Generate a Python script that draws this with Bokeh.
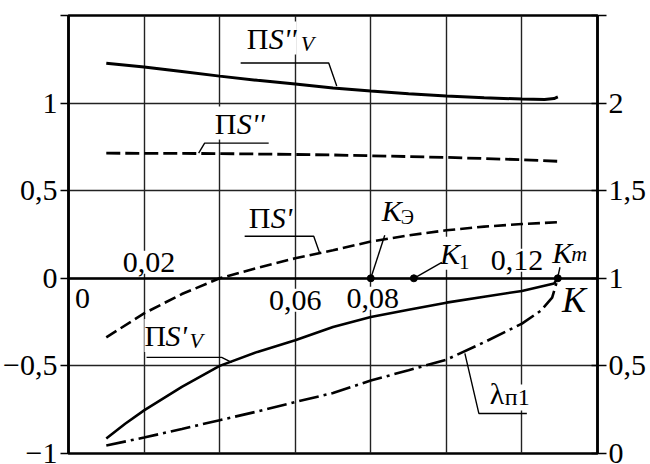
from bokeh.plotting import figure
from bokeh.models import Range1d, LinearAxis, FixedTicker
from bokeh.core.properties import value
from bokeh.embed import file_html
from bokeh.resources import INLINE

# ---------------- data ----------------
k_s2v = [0.01, 0.02, 0.03, 0.04, 0.05, 0.06, 0.07, 0.08, 0.09, 0.10, 0.11, 0.12, 0.126, 0.1285, 0.1295]
s2v   = [1.228, 1.206, 1.18, 1.154, 1.13, 1.109, 1.086, 1.069, 1.054, 1.04, 1.03, 1.023, 1.021, 1.026, 1.035]

k_s2 = [0.01, 0.04, 0.07, 0.10, 0.12, 0.1295]
s2   = [0.714, 0.712, 0.704, 0.69, 0.677, 0.668]

k_s1 = [0.01, 0.02, 0.03, 0.04, 0.05, 0.06, 0.07, 0.08, 0.09, 0.10, 0.11, 0.12, 0.1295]
s1   = [-0.337, -0.2, -0.09, 0.0, 0.06, 0.114, 0.16, 0.21, 0.245, 0.274, 0.295, 0.31, 0.32]

k_s1v = [0.01, 0.015, 0.02, 0.03, 0.04, 0.05, 0.06, 0.07, 0.08, 0.09, 0.10, 0.11, 0.12, 0.1285, 0.1295]
s1v   = [-0.914, -0.83, -0.754, -0.62, -0.5, -0.42, -0.354, -0.278, -0.221, -0.18, -0.139, -0.105, -0.072, -0.03, 0.0]

k_lam = [0.01, 0.02, 0.03, 0.04, 0.05, 0.06, 0.07, 0.08, 0.09, 0.10, 0.11, 0.12, 0.125, 0.128, 0.1295]
lam   = [0.046, 0.091, 0.14, 0.19, 0.24, 0.294, 0.345, 0.417, 0.475, 0.535, 0.635, 0.741, 0.815, 0.89, 1.0]

k_points = [0.08, 0.0914, 0.1295]
v_points = [0.0, 0.0, 0.0]

x_grid_ticks = [0, 0.02, 0.04, 0.06, 0.08, 0.10, 0.12, 0.14]
x_tick_vals = [0, 0.02, 0.06, 0.08, 0.12]
x_tick_labels = ["0", "0,02", "0,06", "0,08", "0,12"]

left_ticks = [-1, -0.5, 0, 0.5, 1, 1.5]
left_labels = ["\u22121", "\u22120,5", "0", "0,5", "1", ""]
right_ticks = [0, 0.5, 1, 1.5, 2, 2.5]
right_labels = ["0", "0,5", "1", "1,5", "2", ""]

SERIF = "Liberation Serif"
TEXT_DY = -10   # global vertical correction of in-plot texts (px)

# ---------------- figure ----------------
p = figure(frame_width=529, frame_height=438, x_range=Range1d(0, 0.14), y_range=Range1d(-1, 1.5),
           output_backend="svg", toolbar_location=None,
           min_border_left=67, min_border_right=54, min_border_top=15, min_border_bottom=11)
p.background_fill_color = "white"
p.border_fill_color = "white"
p.outline_line_color = "black"
p.outline_line_width = 2.5
p.outline_line_alpha = 1.0

p.extra_y_ranges = {"lam": Range1d(0, 2.5)}
raxis = LinearAxis(y_range_name="lam", ticker=FixedTicker(ticks=right_ticks),
                   major_label_overrides={t: l for t, l in zip(right_ticks, right_labels)})
p.add_layout(raxis, "right")

lax = p.left[0]
lax.ticker = FixedTicker(ticks=left_ticks)
lax.major_label_overrides = {t: l for t, l in zip(left_ticks, left_labels)}
for ax, tin, tout, so in ((lax, 0, 8, 3), (raxis, 6, 9, 2)):
    ax.axis_line_width = 2.5
    ax.axis_line_color = "black"
    ax.major_tick_line_width = 1.5
    ax.major_tick_line_color = "black"
    ax.major_tick_in = tin
    ax.major_tick_out = tout
    ax.minor_tick_line_color = None
    ax.major_label_standoff = so
    ax.major_label_text_font = SERIF
    ax.major_label_text_font_size = "30px"
    ax.major_label_text_color = "black"

# x axis: the thick K line through zero; its grid uses its own ticker
xax = p.xaxis[0]
xax.ticker = FixedTicker(ticks=[])
xax.fixed_location = 0
xax.axis_line_width = 2.5
xax.axis_line_color = "black"
xax.major_tick_in = 0
xax.major_tick_out = 0
xax.major_tick_line_color = None
xax.minor_tick_line_color = None
xax.major_label_standoff = 0
p.xgrid[0].ticker = FixedTicker(ticks=x_grid_ticks)

for g in (p.xgrid[0], p.ygrid[0]):
    g.grid_line_color = "#222222"
    g.grid_line_width = 1.4
    g.grid_line_alpha = 1.0

# ---------------- texts ----------------
tick_dx = [14, 5, 0, 2, -5]
tick_dy = [30 + TEXT_DY, -6 + TEXT_DY, 32 + TEXT_DY, 30 + TEXT_DY, -8 + TEXT_DY]

# label anchor (data), parts: (text, dx px, dy px, size px, style, white box)
labels = [
    ((0.04715, 1.314), [("\u041f", 0, 0, 30, "normal", True), ("S''", 22, 0, 30, "italic", True),
                        ("V", 54, 5, 22, "italic", False)]),
    ((0.0387, 0.829), [("\u041f", 0, 0, 30, "normal", True), ("S''", 22, 0, 30, "italic", True)]),
    ((0.0477, 0.291), [("\u041f", 0, 0, 30, "normal", True), ("S'", 22, 0, 30, "italic", True)]),
    ((0.0201, -0.383), [("\u041f", 0, 0, 30, "normal", True), ("S'", 21, 0, 30, "italic", True),
                        ("V", 45, 5, 22, "italic", False)]),
    ((0.1115, -0.714), [("\u03bb", 0, 0, 30, "normal", True), ("\u043f1", 15, 4, 24, "normal", True)]),
    ((0.0829, 0.331), [("K", 0, 0, 30, "italic", True), ("\u042d", 19, 7, 20, "normal", False)]),
    ((0.0983, 0.0857), [("K", 0, 0, 30, "italic", True), ("1", 19, 9, 21, "normal", False)]),
    ((0.128, 0.0914), [("K", 0, 0, 30, "italic", True), ("m", 19, 1, 22, "italic", False)]),
    ((0.1306, -0.183), [("K", 0, 0, 36, "italic", False)]),
]

p.text(x=x_tick_vals, y=[0] * len(x_tick_vals), text=x_tick_labels, x_offset=tick_dx, y_offset=tick_dy,
       text_font=value(SERIF), text_font_size="30px", text_align="center",
       text_baseline="alphabetic", text_color="black", background_fill_color="white", padding=2)

for (ax_, ay_), parts in labels:
    for txt, dx, dy, sz, st, box in parts:
        extra = dict(background_fill_color="white", padding=0) if box else {}
        p.text(x=[ax_], y=[ay_], text=[txt], x_offset=dx, y_offset=dy + TEXT_DY,
               text_font=value(SERIF), text_font_size=f"{sz}px", text_font_style=st,
               text_align="left", text_baseline="alphabetic", text_color="black", **extra)

# ---------------- curves ----------------
p.line(k_s2v, s2v, line_color="black", line_width=3)
p.line(k_s2, s2, line_color="black", line_width=2.8, line_dash="14 5")
p.line(k_s1, s1, line_color="black", line_width=2.6, line_dash="12 5")
p.line(k_s1v, s1v, line_color="black", line_width=2.6)
p.line(k_lam, lam, line_color="black", line_width=2.6, line_dash="20 5 3 5", y_range_name="lam")

# ---------------- callout leaders ----------------
callouts = [
    ([0.04556, 0.06887, 0.07099], [1.2286, 1.2286, 1.0971]),
    ([0.05298, 0.03603, 0.03444], [0.7714, 0.7714, 0.7143]),
    ([0.04662, 0.0649, 0.06649], [0.24, 0.24, 0.1429]),
    ([0.02066, 0.04053, 0.04318], [-0.4514, -0.4514, -0.48]),
    ([0.1049, 0.1086, 0.1213], [-0.4286, -0.7714, -0.7714]),
    ([0.0837, 0.08], [0.2457, 0.0]),
    ([0.0988, 0.0914], [0.0914, 0.0]),
    ([0.13007, 0.12954], [0.063, 0.011]),
]
for xs, ys in callouts:
    p.line(xs, ys, line_color="black", line_width=1.4)

p.scatter(k_points, v_points, size=7, color="black")

open("out.html", "w").write(file_html(p, INLINE))
